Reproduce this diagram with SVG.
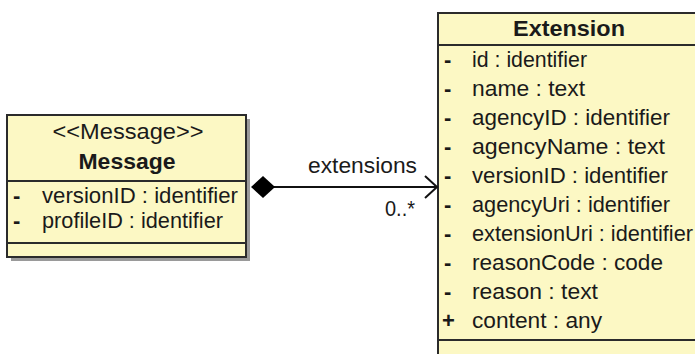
<svg xmlns="http://www.w3.org/2000/svg" width="695" height="354" viewBox="0 0 695 354">
<style>
.box{fill:#fcf8c4;stroke:#2b2b2b;stroke-width:2}
.shadow{fill:#9a9a9a}
.div{stroke:#2b2b2b;stroke-width:2}
text{font-family:"Liberation Sans",Arial,sans-serif;font-size:22px;fill:#1a1a1a}
.b{font-weight:bold}
.c{text-anchor:middle}
.e{text-anchor:end}
.conn{stroke:#111;stroke-width:2;fill:none}
</style>
<rect width="695" height="354" fill="#ffffff"/>
<g id="message">
<rect class="shadow" x="11" y="119" width="239" height="142"/>
<rect class="box" x="7" y="115" width="239" height="142"/>
<line class="div" x1="7" y1="181" x2="246" y2="181"/>
<line class="div" x1="7" y1="243" x2="246" y2="243"/>
<text class="c" x="128" y="139" textLength="151" lengthAdjust="spacingAndGlyphs">&lt;&lt;Message&gt;&gt;</text>
<text class="c b" x="127" y="169" textLength="97" lengthAdjust="spacingAndGlyphs">Message</text>
<text class="b" x="13" y="203">-</text>
<text x="42" y="203" textLength="196" lengthAdjust="spacingAndGlyphs">versionID : identifier</text>
<text class="b" x="13" y="228">-</text>
<text x="42" y="228" textLength="181" lengthAdjust="spacingAndGlyphs">profileID : identifier</text>
</g>
<g id="extension">
<rect class="box" x="438" y="13" width="270" height="360"/>
<line class="div" x1="438" y1="45" x2="695" y2="45"/>
<line class="div" x1="438" y1="340" x2="695" y2="340"/>
<text class="c b" x="569" y="36" textLength="112" lengthAdjust="spacingAndGlyphs">Extension</text>
<text class="b" x="444" y="67">-</text>
<text x="472" y="67" textLength="115" lengthAdjust="spacingAndGlyphs">id : identifier</text>
<text class="b" x="444" y="96">-</text>
<text x="472" y="96" textLength="113" lengthAdjust="spacingAndGlyphs">name : text</text>
<text class="b" x="444" y="125">-</text>
<text x="472" y="125" textLength="198" lengthAdjust="spacingAndGlyphs">agencyID : identifier</text>
<text class="b" x="444" y="154">-</text>
<text x="472" y="154" textLength="193" lengthAdjust="spacingAndGlyphs">agencyName : text</text>
<text class="b" x="444" y="183">-</text>
<text x="472" y="183" textLength="196" lengthAdjust="spacingAndGlyphs">versionID : identifier</text>
<text class="b" x="444" y="212">-</text>
<text x="472" y="212" textLength="198" lengthAdjust="spacingAndGlyphs">agencyUri : identifier</text>
<text class="b" x="444" y="241">-</text>
<text x="472" y="241" textLength="221" lengthAdjust="spacingAndGlyphs">extensionUri : identifier</text>
<text class="b" x="444" y="270">-</text>
<text x="472" y="270" textLength="191" lengthAdjust="spacingAndGlyphs">reasonCode : code</text>
<text class="b" x="444" y="299">-</text>
<text x="472" y="299" textLength="126" lengthAdjust="spacingAndGlyphs">reason : text</text>
<text class="b" x="442" y="328">+</text>
<text x="472" y="328" textLength="130" lengthAdjust="spacingAndGlyphs">content : any</text>
</g>
<g id="connectors">
<line class="conn" x1="270" y1="187" x2="437" y2="187"/>
<polygon points="251,187 263,176 275,187 263,198" fill="#000"/>
<polyline class="conn" points="425,176 437,187 425,198"/>
<text class="e" x="417" y="173" textLength="109" lengthAdjust="spacingAndGlyphs">extensions</text>
<text class="e" x="415" y="216" textLength="30" lengthAdjust="spacingAndGlyphs">0..*</text>
</g>
</svg>
